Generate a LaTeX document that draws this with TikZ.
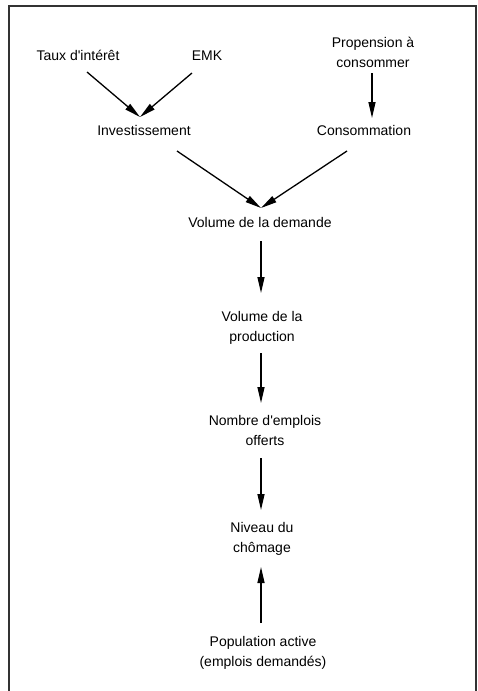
\documentclass[tikz,border=0pt]{standalone}
\usepackage{fontspec}
\setmainfont{Liberation Sans}
\usetikzlibrary{arrows.meta}
\begin{document}
\begin{tikzpicture}[x=1pt,y=-1pt,
  lbl/.style={inner sep=0pt,outer sep=0pt,align=center,font=\fontsize{14}{20}\selectfont},
  arr/.style={line width=1.3pt,-{Triangle[length=16pt,width=7pt]}},
  frame/.style={draw=black!80,line width=1.3pt}]
\useasboundingbox (0,0) rectangle (478,691);
\draw[frame] (9,700) -- (9,6) -- (476,6) -- (476,700);
\node[lbl] (taux) at (78,56) {\strut Taux d\textquotesingle intérêt};
\node[lbl] (emk)  at (207,56) {\strut EMK};
\node[lbl] (prop) at (373,53) {\strut Propension à\\\strut consommer};
\node[lbl] (inv)  at (144,131) {\strut Investissement};
\node[lbl] (cons) at (364,131) {\strut Consommation};
\node[lbl] (vdem) at (260,223) {\strut Volume de la demande};
\node[lbl] (vprod) at (262,327) {\strut Volume de la\\\strut production};
\node[lbl] (nemp) at (265,431) {\strut Nombre d\textquotesingle emplois\\\strut offerts};
\node[lbl] (niv)  at (262,538) {\strut Niveau du\\\strut chômage};
\node[lbl] (pop)  at (263,652) {\strut Population active\\\strut (emplois demandés)};
\draw[arr] ([shift={(9,6)}]taux.south) -- ([shift={(-4,-4)}]inv.north);
\draw[arr] ([shift={(-15,7)}]emk.south) -- ([shift={(-4,-4)}]inv.north);
\draw[arr] ([shift={(-1,0)}]prop.south) -- ([shift={(8,-3)}]cons.north);
\draw[arr] ([shift={(33,10)}]inv.south) -- ([shift={(1,-5)}]vdem.north);
\draw[arr] ([shift={(-17,10)}]cons.south) -- ([shift={(1,-5)}]vdem.north);
\draw[arr] ([shift={(1,8)}]vdem.south) -- ([shift={(-1,-14)}]vprod.north);
\draw[arr] ([shift={(-1,6)}]vprod.south) -- ([shift={(-4,-8)}]nemp.north);
\draw[arr] ([shift={(-4,7)}]nemp.south) -- ([shift={(-1,-8)}]niv.north);
\draw[arr] ([shift={(-2,-9)}]pop.north) -- ([shift={(-1,9)}]niv.south);
\end{tikzpicture}
\end{document}
